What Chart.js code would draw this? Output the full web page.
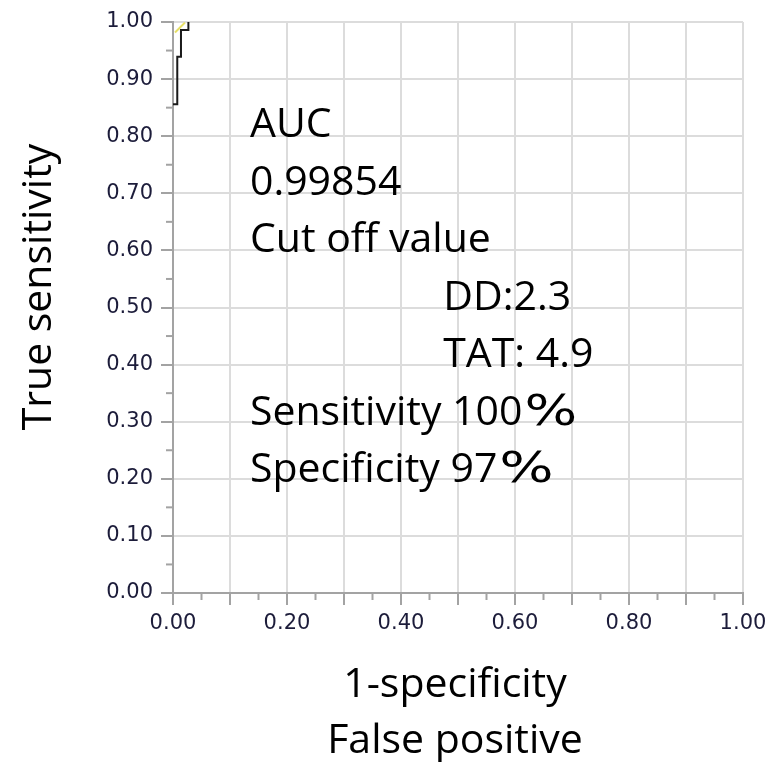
<!DOCTYPE html>
<html>
<head>
<meta charset="utf-8">
<title>ROC curve</title>
<script src="https://cdn.jsdelivr.net/npm/chart.js@4"></script>
<style>
  html, body { margin: 0; padding: 0; background: #fff; }
  #wrap { width: 782px; height: 762px; }
</style>
</head>
<body>
<div id="wrap"><canvas id="roc" width="782" height="762"></canvas></div>
<script>
// ROC curve: false positive rate (1 - specificity) vs true positive rate
const rocFpr = [0, 0.0075, 0.0075, 0.014, 0.014, 0.027, 0.027];
const rocTpr = [0.856, 0.856, 0.939, 0.939, 0.986, 0.986, 1.0];

// short pale segment near the top-left corner
const refFpr = [0.0035, 0.021];
const refTpr = [0.9815, 0.999];

// axis tick labels
const xTickValues = [0, 0.2, 0.4, 0.6, 0.8, 1.0];
const xTickLabels = ['0.00', '0.20', '0.40', '0.60', '0.80', '1.00'];
const yTickValues = [0, 0.1, 0.2, 0.3, 0.4, 0.5, 0.6, 0.7, 0.8, 0.9, 1.0];
const yTickLabels = ['0.00', '0.10', '0.20', '0.30', '0.40', '0.50', '0.60', '0.70', '0.80', '0.90', '1.00'];

// summary text written inside the plot
const noteLines = ['AUC', '0.99854', 'Cut off value', 'DD:2.3', 'TAT: 4.9', 'Sensitivity 100', 'Specificity 97'];
const noteSuffix = ['', '', '', '', '', '%', '%'];
const noteX = [0.135, 0.135, 0.135, 0.474, 0.474, 0.135, 0.135];
const noteY = [0.799, 0.697, 0.597, 0.496, 0.396, 0.295, 0.194];
// right end of the wide percent sign, in axis units
const suffixEnd = [0, 0, 0, 0, 0, 0.709, 0.668];

const yTitle = 'True sensitivity';
const xTitleLines = ['1-specificity', 'False positive'];

const BIG_FONT = '41px "Open Sans", "Noto Sans", sans-serif';
const PCT_FONT = '42px "DejaVu Sans", sans-serif';
const AXIS_GRAY = '#a3a3a3';
const GRID_GRAY = '#dcdcdc';

const toPoints = (xs, ys) => xs.map((x, i) => ({ x: x, y: ys[i] }));
const isMultiple = (v, step) => Math.abs(Math.round(v * 100) % Math.round(step * 100)) === 0;
const labelFor = (v, values, labels) => {
  const i = values.findIndex(t => Math.abs(t - v) < 1e-6);
  return i >= 0 ? labels[i] : '';
};

// extra drawing: half-length minor ticks, axis titles and the summary text
const decorations = {
  id: 'decorations',
  afterDraw(chart) {
    const { ctx, chartArea, scales } = chart;
    const xs = scales.x, ys = scales.y;
    ctx.save();

    // minor ticks every 0.05
    ctx.strokeStyle = AXIS_GRAY;
    ctx.lineWidth = 2;
    for (let k = 1; k < 20; k += 2) {
      const v = k * 0.05;
      const px = xs.getPixelForValue(v);
      ctx.beginPath();
      ctx.moveTo(px, chartArea.bottom);
      ctx.lineTo(px, chartArea.bottom + 7);
      ctx.stroke();
      const py = ys.getPixelForValue(v);
      ctx.beginPath();
      ctx.moveTo(chartArea.left, py);
      ctx.lineTo(chartArea.left - 7, py);
      ctx.stroke();
    }

    ctx.fillStyle = '#000';
    ctx.textBaseline = 'alphabetic';
    ctx.textAlign = 'left';

    // summary text
    noteLines.forEach((line, i) => {
      const px = xs.getPixelForValue(noteX[i]);
      const py = ys.getPixelForValue(noteY[i]);
      ctx.font = BIG_FONT;
      ctx.fillText(line, px, py);
      if (noteSuffix[i]) {
        const start = px + ctx.measureText(line).width + 2;
        const end = xs.getPixelForValue(suffixEnd[i]);
        ctx.font = PCT_FONT;
        const natural = ctx.measureText(noteSuffix[i]).width;
        const sx = Math.max(1, (end - start) / natural);
        ctx.save();
        ctx.translate(start, py);
        ctx.scale(sx, 1);
        ctx.fillText(noteSuffix[i], 0, 0);
        ctx.restore();
      }
    });

    // y-axis title
    ctx.font = BIG_FONT;
    ctx.save();
    ctx.translate(51, 287);
    ctx.rotate(-Math.PI / 2);
    ctx.textAlign = 'center';
    ctx.fillText(yTitle, 0, 0);
    ctx.restore();

    // x-axis title (two lines)
    ctx.textAlign = 'center';
    const cx = 455;
    ctx.fillText(xTitleLines[0], cx, 697);
    ctx.fillText(xTitleLines[1], cx, 753);

    ctx.restore();
  }
};

new Chart(document.getElementById('roc'), {
  type: 'scatter',
  data: {
    datasets: [
      {
        label: 'ROC',
        data: toPoints(rocFpr, rocTpr),
        showLine: true,
        borderColor: '#1a1a1a',
        borderWidth: 2,
        pointRadius: 0,
        fill: false,
        tension: 0,
        order: 1
      },
      {
        label: 'reference',
        data: toPoints(refFpr, refTpr),
        showLine: true,
        borderColor: '#e6df66',
        borderWidth: 2,
        pointRadius: 0,
        fill: false,
        order: 2
      }
    ]
  },
  options: {
    responsive: false,
    animation: false,
    devicePixelRatio: 1,
    layout: { padding: { top: 22, right: 39, left: 0, bottom: 0 } },
    plugins: {
      legend: { display: false },
      tooltip: { enabled: false }
    },
    scales: {
      x: {
        type: 'linear',
        min: 0,
        max: 1,
        afterFit(scale) { scale.height = 762 - 593; },
        border: { display: true, color: AXIS_GRAY, width: 2 },
        grid: {
          color: c => isMultiple(c.tick.value, 0.1) ? GRID_GRAY : 'rgba(0,0,0,0)',
          lineWidth: 2,
          tickColor: c => isMultiple(c.tick.value, 0.1) ? AXIS_GRAY : 'rgba(0,0,0,0)',
          tickWidth: 2,
          tickLength: 12
        },
        ticks: {
          stepSize: 0.05,
          autoSkip: false,
          maxRotation: 0,
          padding: 6,
          color: '#1c1c3a',
          font: { family: '"DejaVu Sans", Verdana, sans-serif', size: 21 },
          callback: v => labelFor(v, xTickValues, xTickLabels)
        }
      },
      y: {
        type: 'linear',
        min: 0,
        max: 1,
        afterFit(scale) { scale.width = 173; },
        border: { display: true, color: AXIS_GRAY, width: 2 },
        grid: {
          color: c => isMultiple(c.tick.value, 0.1) ? GRID_GRAY : 'rgba(0,0,0,0)',
          lineWidth: 2,
          tickColor: c => isMultiple(c.tick.value, 0.1) ? AXIS_GRAY : 'rgba(0,0,0,0)',
          tickWidth: 2,
          tickLength: 12
        },
        ticks: {
          stepSize: 0.05,
          autoSkip: false,
          padding: 8,
          color: '#1c1c3a',
          font: { family: '"DejaVu Sans", Verdana, sans-serif', size: 21 },
          callback: v => labelFor(v, yTickValues, yTickLabels)
        }
      }
    }
  },
  plugins: [decorations]
});
</script>
</body>
</html>
